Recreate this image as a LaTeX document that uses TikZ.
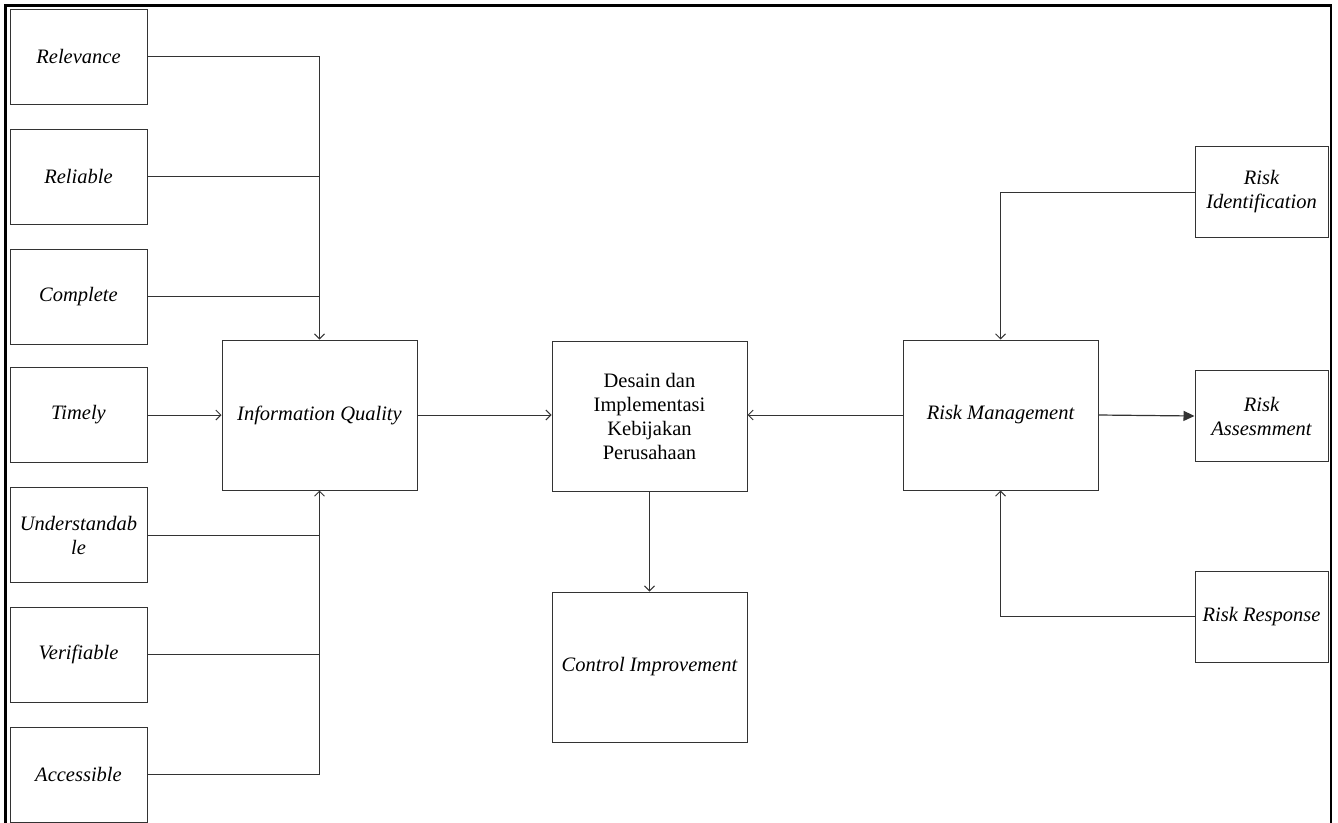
\documentclass[tikz,border=0pt]{standalone}
\usepackage{fontspec}
\setmainfont{Liberation Serif}
\usetikzlibrary{arrows.meta}
\begin{document}
\begin{tikzpicture}[x=1pt,y=-1pt,
  box/.style={draw=black!80, line width=1pt, align=center, inner sep=0pt,
    font=\fontsize{20.5}{24}\selectfont\itshape},
  lbox/.style={box, minimum width=137pt, minimum height=95pt},
  rbox/.style={box, minimum width=133pt, minimum height=91pt},
  cbox/.style={box, minimum width=195pt, minimum height=150pt},
  conn/.style={draw=black!80, line width=1pt},
  arr/.style={conn, -{Straight Barb[length=5pt,width=10pt]}},
  farr/.style={conn, line width=1.2pt, -{Triangle[length=11pt,width=10pt]}},
]
\useasboundingbox (0,0) rectangle (1338,822);
\begin{scope}
\clip (0,0) rectangle (1338,822);
% left column
\node[lbox] (rel) at (78.5,56.5) {Relevance};
\node[lbox] (rlb) at (78.5,176.5) {Reliable};
\node[lbox] (cmp) at (78.5,296.5) {Complete};
\node[lbox] (tim) at (78.5,415) {Timely};
\node[lbox] (und) at (78.5,535) {Understandab\\le};
\node[lbox] (ver) at (78.5,654.5) {Verifiable};
\node[lbox] (acc) at (78.5,774.5) {Accessible};
% centre boxes
\node[cbox] (iq) at (319.5,415) {Information Quality};
\node[cbox, font=\fontsize{20.5}{24}\selectfont] (des) at (649.5,416) {Desain dan\\Implementasi\\Kebijakan\\Perusahaan};
\node[cbox] (ctl) at (649.5,667) {Control Improvement};
\node[cbox] (rm) at (1000.5,415) {Risk Management};
% right column
\node[rbox] (ri) at (1261.5,192) {Risk\\Identification};
\node[rbox] (ra) at (1261.5,416) {Risk\\Assesmment};
\node[rbox] (rr) at (1261.5,616.5) {Risk Response};
% connectors
\draw[arr] (rel.east) -| (iq.north);
\draw[conn] (rlb.east) -- (iq.north |- rlb.east);
\draw[conn] (cmp.east) -- (iq.north |- cmp.east);
\draw[arr] (tim.east) -- (iq.west);
\draw[arr] (acc.east) -| (iq.south);
\draw[conn] (und.east) -- (iq.south |- und.east);
\draw[conn] (ver.east) -- (iq.south |- ver.east);
\draw[arr] (iq.east) -- (des.west |- iq.east);
\draw[arr] (rm.west) -- (des.east |- rm.west);
\draw[arr] (des.south) -- (ctl.north);
\draw[arr] (ri.west) -| (rm.north);
\draw[arr] (rr.west) -| (rm.south);
\draw[farr] (rm.east) -- (ra.west);
% frame
\draw[line width=2.5pt] (5.5,840) -- (5.5,5.5) -- (1331,5.5) -- (1331,840);
\end{scope}
\end{tikzpicture}
\end{document}
